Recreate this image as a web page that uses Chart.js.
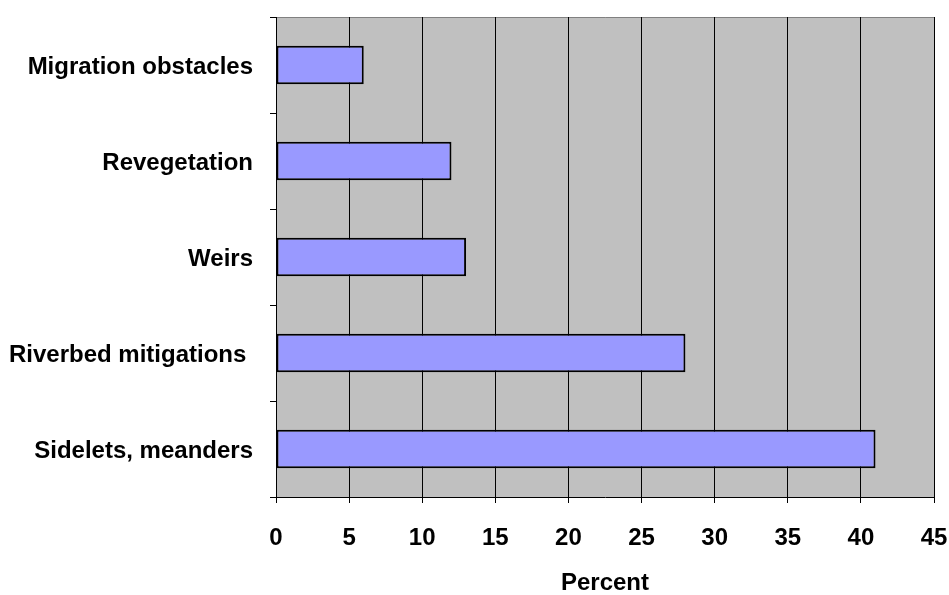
<!DOCTYPE html>
<html>
<head>
<meta charset="utf-8">
<script src="https://cdn.jsdelivr.net/npm/chart.js@4"></script>
<style>
  html, body { margin: 0; padding: 0; background: #ffffff; }
  #wrap { width: 949px; height: 595px; }
</style>
</head>
<body>
<div id="wrap"><canvas id="c" width="949" height="595"></canvas></div>
<script>
// Share of river restoration measures, in percent
const categories = ['Migration obstacles', 'Revegetation', 'Weirs', 'Riverbed mitigations ', 'Sidelets, meanders'];
const percentValues = [6, 12, 13, 28, 41];
const xTicks = [0, 5, 10, 15, 20, 25, 30, 35, 40, 45];

const FONT = "'Liberation Sans', Arial, sans-serif";
const FONT_SIZE = 24;

// Grey plot-area background with a thin grey frame on top and right
const plotBackground = {
  id: 'plotBackground',
  beforeDraw(chart) {
    const { ctx, chartArea: a } = chart;
    ctx.save();
    ctx.fillStyle = '#c0c0c0';
    ctx.fillRect(a.left, a.top, a.right - a.left, a.bottom - a.top);
    ctx.strokeStyle = '#808080';
    ctx.lineWidth = 1;
    ctx.beginPath();
    ctx.moveTo(a.left, a.top + 0.5);
    ctx.lineTo(a.right + 0.5, a.top + 0.5);
    ctx.lineTo(a.right + 0.5, a.bottom);
    ctx.stroke();
    ctx.restore();
  }
};

new Chart(document.getElementById('c'), {
  type: 'bar',
  data: {
    labels: categories,
    datasets: [{
      data: percentValues,
      backgroundColor: '#9999ff',
      borderColor: '#000000',
      borderWidth: 2,
      borderSkipped: false,
      categoryPercentage: 1,
      barPercentage: 0.4
    }]
  },
  options: {
    indexAxis: 'y',
    responsive: false,
    animation: false,
    layout: { padding: { top: 17, right: 15, left: 0, bottom: 0 } },
    plugins: { legend: { display: false }, tooltip: { enabled: false } },
    scales: {
      x: {
        min: 0, max: 45,
        afterBuildTicks(scale) { scale.ticks = xTicks.map(v => ({ value: v })); },
        afterFit(scale) {
          scale.height = 98;
          scale.paddingLeft = 0;
          scale.paddingRight = 0;
        },
        grid: {
          color: '#000000',
          lineWidth: 1,
          tickLength: 6,
          drawOnChartArea: true
        },
        border: { color: '#000000', width: 1 },
        ticks: {
          color: '#000000',
          font: { family: FONT, size: FONT_SIZE, weight: 'bold' },
          padding: 21,
          maxRotation: 0
        },
        title: {
          display: true,
          text: 'Percent',
          color: '#000000',
          font: { family: FONT, size: FONT_SIZE, weight: 'bold', lineHeight: 0.95 },
          padding: { top: 0, bottom: 0 }
        }
      },
      y: {
        offset: true,
        afterFit(scale) {
          scale.width = 276;
          scale.paddingTop = 0;
          scale.paddingBottom = 0;
        },
        grid: {
          offset: true,
          drawOnChartArea: false,
          color: '#000000',
          tickLength: 6
        },
        border: { color: '#000000', width: 1 },
        ticks: {
          color: '#000000',
          font: { family: FONT, size: FONT_SIZE, weight: 'bold' },
          padding: 17,
          labelOffset: 2
        }
      }
    }
  },
  plugins: [plotBackground]
});
</script>
</body>
</html>
